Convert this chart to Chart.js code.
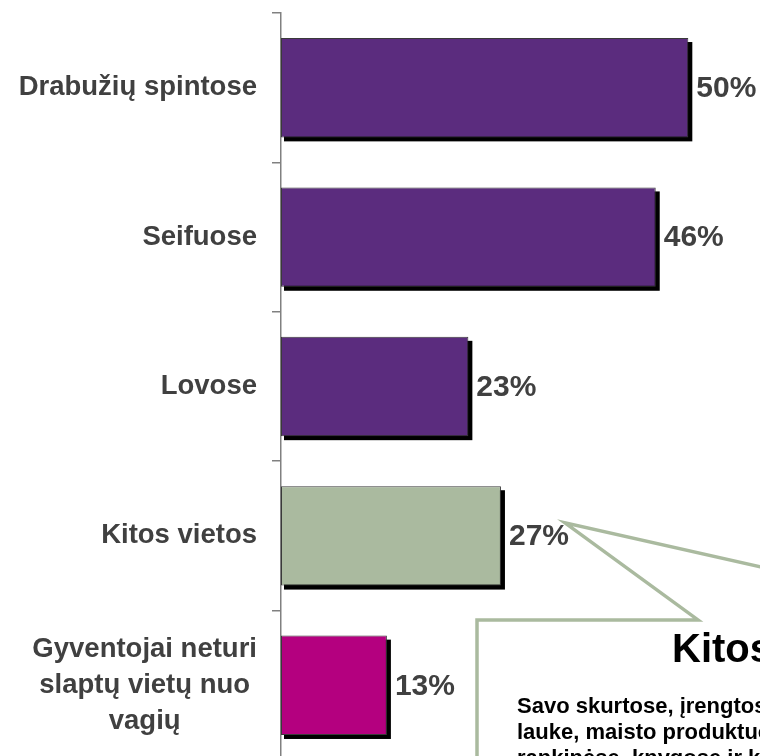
<!DOCTYPE html>
<html>
<head>
<meta charset="utf-8">
<script src="https://cdn.jsdelivr.net/npm/chart.js@4/dist/chart.umd.min.js"></script>
<style>
  html, body { margin: 0; padding: 0; background: #fff; overflow: hidden; }
  #wrap { width: 760px; height: 760px; }
</style>
</head>
<body>
<div id="wrap"><canvas id="chart" width="760" height="760"></canvas></div>
<script>
// data
const categories = [
  ["Drabužių spintose"],
  ["Seifuose"],
  ["Lovose"],
  ["Kitos vietos"],
  ["Gyventojai neturi", "slaptų vietų nuo", "vagių"],
];
const values = [50, 46, 23, 27, 13];

const BAR_COLORS = ["#5B2C7E", "#5B2C7E", "#5B2C7E", "#AABA9F", "#B4007F"];
const TEXT_COLOR = "#404040";
const FONT = '"Liberation Sans", Arial, sans-serif';

const calloutTitle = "Kitos vietos";
const calloutLines = [
  "Savo skurtose, įrengtose slėptuvėse",
  "lauke, maisto produktuose,",
  "rankinėse, knygose ir kitur",
];

// black drop shadow under every bar
const barShadow = {
  id: "barShadow",
  beforeDatasetsDraw(chart) {
    const ctx = chart.ctx;
    ctx.save();
    ctx.fillStyle = "#000";
    chart.getDatasetMeta(0).data.forEach((bar) => {
      ctx.fillRect(bar.base + 3, bar.y - bar.height / 2 + 4, bar.x - bar.base + 1, bar.height);
    });
    ctx.restore();
  },
};

// category labels: block right-aligned to axis, lines centred inside it
const categoryLabels = {
  id: "categoryLabels",
  afterDraw(chart) {
    const ctx = chart.ctx;
    const yScale = chart.scales.y;
    const right = chart.chartArea.left - 24;
    const lineH = 36;
    ctx.save();
    ctx.font = "bold 27.5px " + FONT;
    ctx.fillStyle = TEXT_COLOR;
    ctx.textAlign = "center";
    ctx.textBaseline = "middle";
    categories.forEach((lines, i) => {
      const maxW = Math.max(...lines.map((l) => ctx.measureText(l).width));
      const cx = right - maxW / 2;
      const cy = yScale.getPixelForValue(i);
      lines.forEach((l, j) => {
        ctx.fillText(l, cx, cy + (j - (lines.length - 1) / 2) * lineH);
      });
    });
    ctx.restore();
  },
};

// percentage labels next to the bars
const valueLabels = {
  id: "valueLabels",
  afterDatasetsDraw(chart) {
    const ctx = chart.ctx;
    ctx.save();
    ctx.font = "bold 30px " + FONT;
    ctx.fillStyle = TEXT_COLOR;
    ctx.textAlign = "left";
    ctx.textBaseline = "middle";
    chart.getDatasetMeta(0).data.forEach((bar, i) => {
      ctx.fillText(values[i] + "%", bar.x + 8, bar.y + 1);
    });
    ctx.restore();
  },
};

// speech-bubble callout pointing at "Kitos vietos"
const callout = {
  id: "callout",
  afterDraw(chart) {
    const ctx = chart.ctx;
    const bar = chart.getDatasetMeta(0).data[3];
    const tipX = bar.x + 64;
    const tipY = bar.y - 13;
    const top = bar.y + 84;
    const left = 477;
    ctx.save();
    ctx.beginPath();
    ctx.moveTo(left, top);
    ctx.lineTo(698, top);
    ctx.lineTo(tipX, tipY);
    ctx.lineTo(996, top);
    ctx.lineTo(1200, top);
    ctx.lineTo(1200, 1000);
    ctx.lineTo(left, 1000);
    ctx.closePath();
    ctx.fillStyle = "#fff";
    ctx.fill();
    ctx.lineWidth = 3.5;
    ctx.strokeStyle = "#AABA9F";
    ctx.lineJoin = "miter";
    ctx.stroke();

    ctx.fillStyle = "#000";
    ctx.textBaseline = "alphabetic";
    ctx.font = "bold 40px " + FONT;
    ctx.fillText(calloutTitle, 672, 662);
    ctx.font = "bold 22px " + FONT;
    calloutLines.forEach((l, i) => ctx.fillText(l, 517, 713 + i * 26));
    ctx.restore();
  },
};

new Chart(document.getElementById("chart"), {
  type: "bar",
  data: {
    labels: categories,
    datasets: [
      {
        data: values,
        backgroundColor: BAR_COLORS,
        borderColor: "#3a3a3a",
        borderWidth: 1,
        borderSkipped: false,
        categoryPercentage: 1,
        barPercentage: 0.665,
      },
    ],
  },
  plugins: [barShadow, valueLabels, categoryLabels, callout],
  options: {
    indexAxis: "y",
    responsive: false,
    animation: false,
    layout: { padding: { top: 13, right: 0, bottom: 0, left: 0 } },
    plugins: {
      legend: { display: false },
      tooltip: { enabled: false },
    },
    scales: {
      x: {
        display: false,
        min: 0,
        max: 58.8,
      },
      y: {
        afterFit: (scale) => {
          scale.width = 281;
        },
        ticks: { display: false },
        grid: {
          offset: true,
          drawOnChartArea: false,
          drawTicks: true,
          tickLength: 9,
          color: "#808080",
          lineWidth: 1.5,
        },
        border: { display: true, color: "#808080", width: 1.5 },
      },
    },
  },
});
</script>
</body>
</html>
